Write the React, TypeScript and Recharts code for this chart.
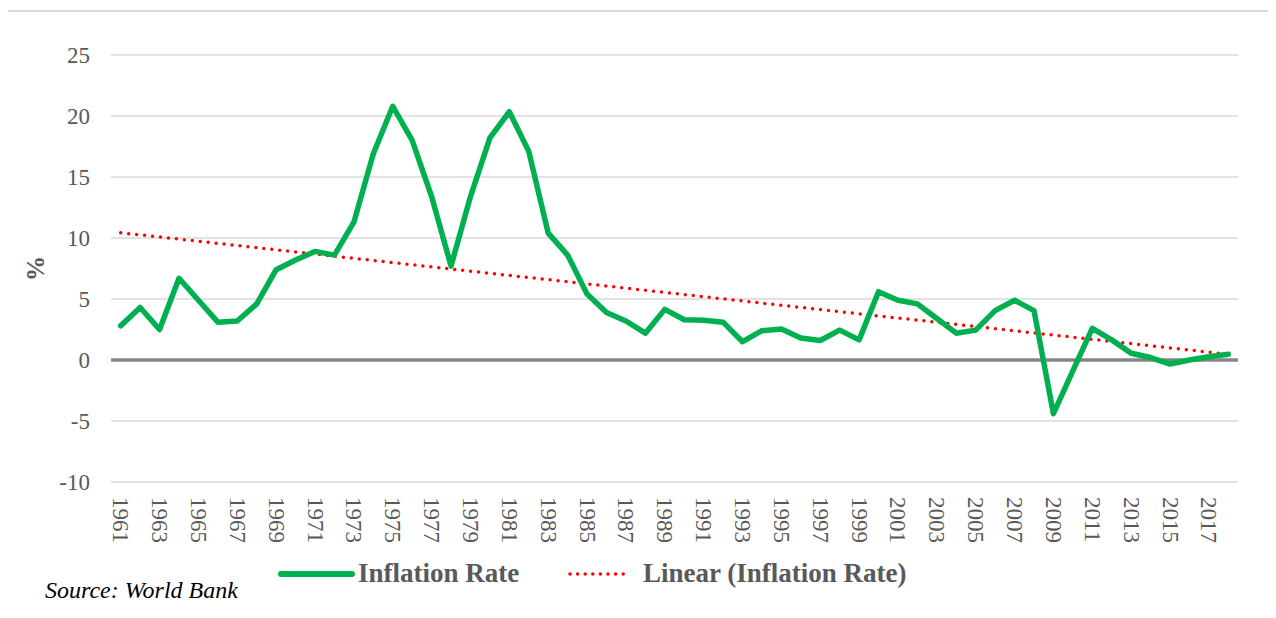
import { CartesianGrid, Legend, Line, LineChart, ReferenceLine, XAxis, YAxis } from "recharts";

const YEARS = [
  "1961", "1962", "1963", "1964", "1965", "1966", "1967", "1968", "1969", "1970",
  "1971", "1972", "1973", "1974", "1975", "1976", "1977", "1978", "1979", "1980",
  "1981", "1982", "1983", "1984", "1985", "1986", "1987", "1988", "1989", "1990",
  "1991", "1992", "1993", "1994", "1995", "1996", "1997", "1998", "1999", "2000",
  "2001", "2002", "2003", "2004", "2005", "2006", "2007", "2008", "2009", "2010",
  "2011", "2012", "2013", "2014", "2015", "2016", "2017", "2018",
];

const INFLATION = [
  2.8, 4.3, 2.5, 6.7, 4.9, 3.1, 3.2, 4.6, 7.4, 8.2,
  8.9, 8.6, 11.3, 16.9, 20.8, 18.0, 13.4, 7.7, 13.4, 18.2,
  20.35, 17.1, 10.4, 8.6, 5.4, 3.9, 3.2, 2.2, 4.15, 3.3,
  3.25, 3.1, 1.5, 2.4, 2.55, 1.8, 1.6, 2.45, 1.65, 5.6,
  4.9, 4.6, 3.4, 2.2, 2.45, 4.05, 4.9, 4.05, -4.4, -0.9,
  2.6, 1.65, 0.55, 0.2, -0.33, 0.0, 0.27, 0.47,
];

// linear trend at the first and last year
const TREND_ENDPOINTS = [
  { x: "1961", y: 10.43 },
  { x: "2018", y: 0.47 },
];

const Y_TICKS = [-10, -5, 0, 5, 10, 15, 20, 25];

const data = YEARS.map((year, i) => ({ year, inflation: INFLATION[i] }));

const SERIF = "Liberation Serif, Tinos, Times New Roman, DejaVu Serif, serif";
const GRAY_TEXT = "#595959";
const GREEN = "#00B050";
const RED = "#FF0000";

const YearTick = ({ x, y, payload }: any) => (
  <g transform={`translate(${x},${y})`}>
    <text
      transform="rotate(90)"
      x={0}
      y={0}
      textAnchor="start"
      dominantBaseline="central"
      fill={GRAY_TEXT}
      style={{ fontFamily: SERIF, fontSize: 23 }}
    >
      {payload.value}
    </text>
  </g>
);

const PercentLabel = ({ viewBox }: any) => {
  const cx = viewBox.x + 35;
  const cy = viewBox.y + viewBox.height / 2;
  return (
    <text
      x={cx}
      y={cy}
      transform={`rotate(-90 ${cx} ${cy})`}
      textAnchor="middle"
      dominantBaseline="central"
      fill={GRAY_TEXT}
      style={{ fontFamily: SERIF, fontWeight: "bold", fontSize: 25 }}
    >
      %
    </text>
  );
};

const legendText = { fontFamily: SERIF, fontWeight: "bold", fontSize: 27 } as const;

const renderLegend = () => (
  <svg width={1276} height={45} style={{ display: "block" }}>
    <line x1={281} y1={24} x2={352} y2={24} stroke={GREEN} strokeWidth={6} strokeLinecap="round" />
    <text x={358} y={32} fill={GRAY_TEXT} style={legendText}>
      Inflation Rate
    </text>
    <line
      x1={570}
      y1={24}
      x2={630}
      y2={24}
      stroke={RED}
      strokeWidth={3.5}
      strokeDasharray="0 7.6"
      strokeLinecap="round"
    />
    <text x={643} y={32} fill={GRAY_TEXT} style={legendText}>
      Linear (Inflation Rate)
    </text>
  </svg>
);

export default function App() {
  return (
    <div
      style={{
        position: "relative",
        width: 1276,
        height: 618,
        margin: -8,
        overflow: "hidden",
        background: "#fff",
        fontFamily: SERIF,
      }}
    >
      <div
        style={{
          position: "absolute",
          left: 6,
          top: 10,
          width: 1320,
          height: 700,
          border: "2px solid #d9d9d9",
        }}
      />
      <div style={{ position: "absolute", left: 0, top: 0 }}>
        <LineChart width={1276} height={618} data={data} margin={{ top: 55, right: 38, bottom: 0, left: 0 }}>
          <CartesianGrid vertical={false} stroke="#d9d9d9" strokeWidth={1.5} />
          <XAxis
            dataKey="year"
            height={136}
            axisLine={false}
            tickLine={false}
            tickSize={0}
            tickMargin={15}
            interval={1}
            padding={{ left: 9.7, right: 9.7 }}
            tick={<YearTick />}
          />
          <YAxis
            width={111}
            domain={[-10, 25]}
            ticks={Y_TICKS}
            axisLine={false}
            tickLine={false}
            tickSize={0}
            tickMargin={21}
            tick={{ fill: GRAY_TEXT, style: { fontFamily: SERIF, fontSize: 23 } }}
            label={{ content: <PercentLabel /> }}
          />
          <ReferenceLine y={0} stroke="#868686" strokeWidth={3.5} />
          <ReferenceLine
            segment={TREND_ENDPOINTS}
            stroke={RED}
            strokeWidth={3.5}
            strokeDasharray="0 8"
            strokeLinecap="round"
          />
          <Line
            type="linear"
            dataKey="inflation"
            name="Inflation Rate"
            stroke={GREEN}
            strokeWidth={5.5}
            strokeLinejoin="round"
            strokeLinecap="round"
            dot={false}
            activeDot={false}
            isAnimationActive={false}
          />
          <Legend
            verticalAlign="middle"
            align="center"
            content={renderLegend}
            wrapperStyle={{ top: 550, left: 0, width: 1276, height: 45 }}
          />
        </LineChart>
      </div>
      <div
        style={{
          position: "absolute",
          left: 45,
          top: 576,
          fontFamily: SERIF,
          fontStyle: "italic",
          fontSize: 24,
          color: "#000",
          lineHeight: "28px",
          whiteSpace: "nowrap",
        }}
      >
        Source: World Bank
      </div>
    </div>
  );
}
